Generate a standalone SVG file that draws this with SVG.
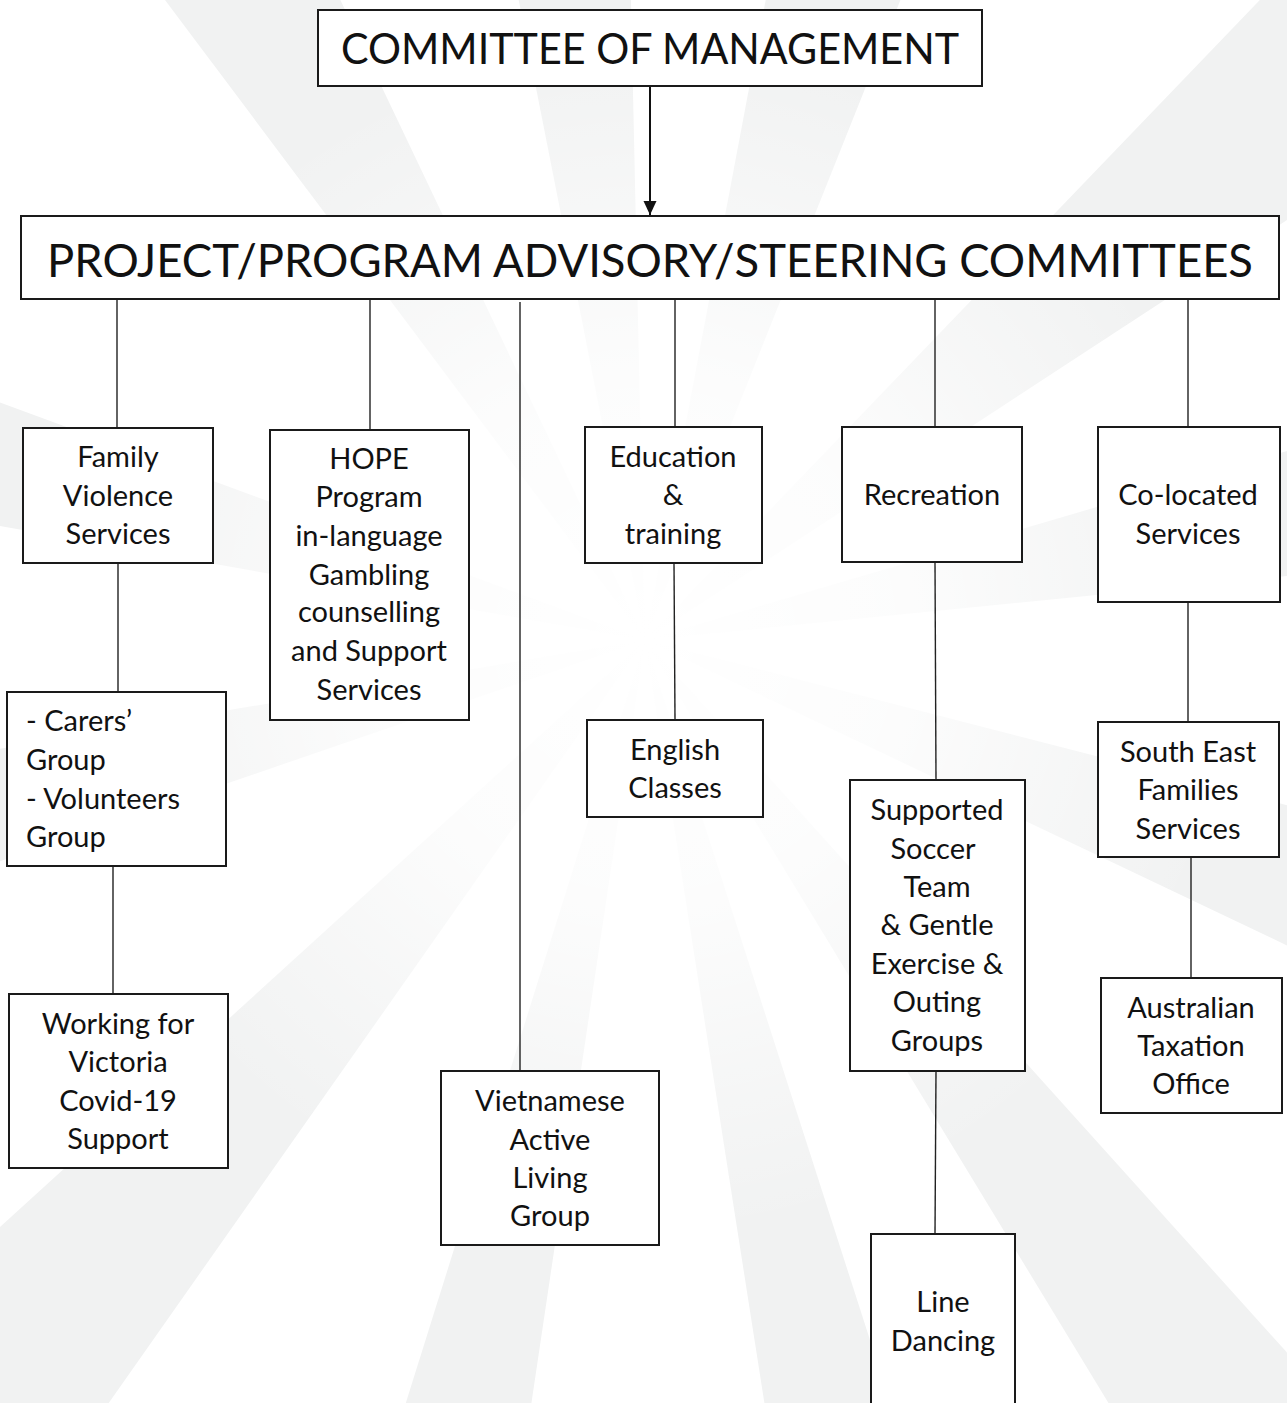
<svg xmlns="http://www.w3.org/2000/svg" width="1287" height="1403" viewBox="0 0 1287 1403">
<defs>
<style>
.box{fill:#fff;stroke:#1a1a1a;stroke-width:2}
.t{font-family:Lato,"Open Sans","Liberation Sans",sans-serif;font-size:29px;fill:#111;text-anchor:middle}
.tl{font-family:Lato,"Open Sans","Liberation Sans",sans-serif;font-size:29px;fill:#111}
.h{font-family:Lato,"Open Sans","Liberation Sans",sans-serif;fill:#111;text-anchor:middle}
.c{stroke:#222;stroke-width:1.4;fill:none}
.ray{fill:#f1f2f2}
</style>
<radialGradient id="fade" cx="645" cy="640" r="750" gradientUnits="userSpaceOnUse">
<stop offset="0" stop-color="#fff" stop-opacity="1"/>
<stop offset="0.35" stop-color="#fff" stop-opacity="0.8"/>
<stop offset="0.8" stop-color="#fff" stop-opacity="0"/>
</radialGradient>
<marker id="arr" markerWidth="14" markerHeight="14" refX="14" refY="6.5" orient="auto" markerUnits="userSpaceOnUse">
<path d="M0,0 L14,6.5 L0,13 z" fill="#111"/>
</marker>
</defs>
<rect width="1287" height="1403" fill="#fff"/>
<g id="background">
<path class="ray" d="M645,640 L-60,-300 L150,-400 Z"/>
<path class="ray" d="M645,640 L420,-500 L620,-500 Z"/>
<path class="ray" d="M645,640 L860,-500 L1080,-450 Z"/>
<path class="ray" d="M645,640 L1500,-250 L1700,-50 Z"/>
<path class="ray" d="M645,640 L1800,300 L1850,520 Z"/>
<path class="ray" d="M645,640 L1850,950 L1780,1180 Z"/>
<path class="ray" d="M645,640 L1600,1700 L1380,1850 Z"/>
<path class="ray" d="M645,640 L1050,1900 L850,1950 Z"/>
<path class="ray" d="M645,640 L450,1950 L250,1900 Z"/>
<path class="ray" d="M645,640 L-100,1700 L-300,1500 Z"/>
<path class="ray" d="M645,640 L-550,1050 L-600,850 Z"/>
<path class="ray" d="M645,640 L-600,420 L-550,200 Z"/>
<rect width="1287" height="1403" fill="url(#fade)"/>
</g>
<g id="connectors">
<line x1="650" y1="86" x2="650" y2="215" stroke="#111" stroke-width="2" marker-end="url(#arr)"/>
<line class="c" x1="117" y1="299" x2="117" y2="428"/>
<line class="c" x1="370" y1="299" x2="370" y2="430"/>
<line class="c" x1="520" y1="302" x2="520" y2="1071"/>
<line class="c" x1="675" y1="299" x2="675" y2="427"/>
<line class="c" x1="935" y1="299" x2="935" y2="427"/>
<line class="c" x1="1188" y1="299" x2="1188" y2="427"/>
<line class="c" x1="118" y1="563" x2="118" y2="692"/>
<line class="c" x1="113" y1="866" x2="113" y2="994"/>
<line class="c" x1="674" y1="563" x2="675" y2="720"/>
<line class="c" x1="935" y1="562" x2="936" y2="780"/>
<line class="c" x1="936" y1="1071" x2="935" y2="1234"/>
<line class="c" x1="1188" y1="602" x2="1188" y2="722"/>
<line class="c" x1="1191" y1="857" x2="1191" y2="978"/>
</g>
<g id="committee">
<rect class="box" x="318" y="10" width="664" height="76"/>
<text class="h" x="650" y="64" font-size="42" textLength="618" lengthAdjust="spacingAndGlyphs">COMMITTEE OF MANAGEMENT</text>
</g>
<g id="steering">
<rect class="box" x="21" y="216" width="1258" height="83"/>
<text class="h" x="650" y="277" font-size="46" textLength="1206" lengthAdjust="spacingAndGlyphs">PROJECT/PROGRAM ADVISORY/STEERING COMMITTEES</text>
</g>
<g id="family-violence">
<rect class="box" x="23" y="428" width="190" height="135"/>
<text class="t" x="118" y="467">Family</text>
<text class="t" x="118" y="506">Violence</text>
<text class="t" x="118" y="544">Services</text>
</g>
<g id="hope">
<rect class="box" x="270" y="430" width="199" height="290"/>
<text class="t" x="369" y="469">HOPE</text>
<text class="t" x="369" y="507">Program</text>
<text class="t" x="369" y="546">in-language</text>
<text class="t" x="369" y="585">Gambling</text>
<text class="t" x="369" y="622">counselling</text>
<text class="t" x="369" y="661">and Support</text>
<text class="t" x="369" y="700">Services</text>
</g>
<g id="education">
<rect class="box" x="585" y="427" width="177" height="136"/>
<text class="t" x="673" y="467">Education</text>
<text class="t" x="673" y="505">&amp;</text>
<text class="t" x="673" y="544">training</text>
</g>
<g id="recreation">
<rect class="box" x="842" y="427" width="180" height="135"/>
<text class="t" x="932" y="505">Recreation</text>
</g>
<g id="co-located">
<rect class="box" x="1098" y="427" width="182" height="175"/>
<text class="t" x="1188" y="505">Co-located</text>
<text class="t" x="1188" y="544">Services</text>
</g>
<g id="carers">
<rect class="box" x="7" y="692" width="219" height="174"/>
<text class="tl" x="26" y="731">- Carers’</text>
<text class="tl" x="26" y="770">Group</text>
<text class="tl" x="26" y="809">- Volunteers</text>
<text class="tl" x="26" y="847">Group</text>
</g>
<g id="working-for-victoria">
<rect class="box" x="9" y="994" width="219" height="174"/>
<text class="t" x="118" y="1034">Working for</text>
<text class="t" x="118" y="1072">Victoria</text>
<text class="t" x="118" y="1111">Covid-19</text>
<text class="t" x="118" y="1149">Support</text>
</g>
<g id="english">
<rect class="box" x="587" y="720" width="176" height="97"/>
<text class="t" x="675" y="760">English</text>
<text class="t" x="675" y="798">Classes</text>
</g>
<g id="vietnamese">
<rect class="box" x="441" y="1071" width="218" height="174"/>
<text class="t" x="550" y="1111">Vietnamese</text>
<text class="t" x="550" y="1150">Active</text>
<text class="t" x="550" y="1188">Living</text>
<text class="t" x="550" y="1226">Group</text>
</g>
<g id="supported-soccer">
<rect class="box" x="850" y="780" width="175" height="291"/>
<text class="t" x="937" y="820">Supported</text>
<text class="t" x="933" y="859">Soccer</text>
<text class="t" x="937" y="897">Team</text>
<text class="t" x="937" y="935">&amp; Gentle</text>
<text class="t" x="937" y="974">Exercise &amp;</text>
<text class="t" x="937" y="1012">Outing</text>
<text class="t" x="937" y="1051">Groups</text>
</g>
<g id="line-dancing">
<rect class="box" x="871" y="1234" width="144" height="180"/>
<text class="t" x="943" y="1312">Line</text>
<text class="t" x="943" y="1351">Dancing</text>
</g>
<g id="south-east">
<rect class="box" x="1098" y="722" width="181" height="135"/>
<text class="t" x="1188" y="762">South East</text>
<text class="t" x="1188" y="800">Families</text>
<text class="t" x="1188" y="839">Services</text>
</g>
<g id="ato">
<rect class="box" x="1101" y="978" width="181" height="135"/>
<text class="t" x="1191" y="1018">Australian</text>
<text class="t" x="1191" y="1056">Taxation</text>
<text class="t" x="1191" y="1094">Office</text>
</g>
</svg>
